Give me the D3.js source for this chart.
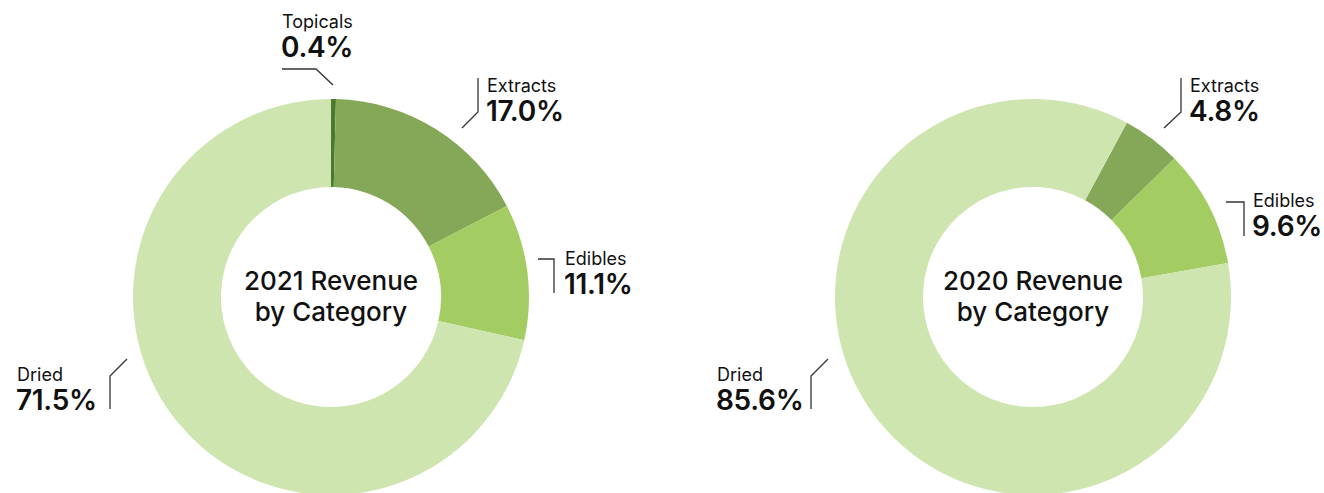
<!DOCTYPE html>
<html>
<head>
<meta charset="utf-8">
<script src="https://cdn.jsdelivr.net/npm/d3@7"></script>
<style>
  body { margin: 0; background: #fff; }
  svg text { font-family: Inter, "Noto Sans", sans-serif; fill: #111; }
</style>
</head>
<body>
<svg id="chart" width="1324" height="493"></svg>
<script>
// data
var categories = ["Topicals", "Extracts", "Edibles", "Dried"];
var values2021 = [0.4, 17.0, 11.1, 71.5];
var values2020 = [0.0, 4.8, 9.6, 85.6];
var titles = [["2021 Revenue", "by Category"], ["2020 Revenue", "by Category"]];

var colors = {Topicals: "#4b7a2f", Extracts: "#84a857", Edibles: "#a3cc63", Dried: "#cfe5b0"};

var svg = d3.select("#chart");
var outerR = 198, innerR = 110;

// label layout per chart, offsets from the donut centre
// text: [x, y of first baseline]; line: leader polyline points
var layouts = [
  {cx: 331, cy: 297, start: 0, labels: {
    Topicals: {text: [-49, -269], line: [[-49, -228], [-15, -228], [2, -212]]},
    Extracts: {text: [156, -205], line: [[147, -219], [147, -185], [131, -169]]},
    Edibles:  {text: [234, -32], line: [[207, -38], [223, -38], [223, -4]]},
    Dried:    {text: [-314, 84], line: [[-221, 112], [-221, 79], [-204, 62]]}
  }},
  {cx: 1033, cy: 297, start: 28.3, labels: {
    Extracts: {text: [157, -205], line: [[148, -219], [148, -185], [131, -169]]},
    Edibles:  {text: [220, -90], line: [[193, -95], [211, -95], [211, -61]]},
    Dried:    {text: [-316, 84], line: [[-222, 112], [-222, 79], [-205, 62]]}
  }}
];

var arc = d3.arc().innerRadius(innerR).outerRadius(outerR);

[values2021, values2020].forEach(function (vals, k) {
  var lay = layouts[k];
  var data = categories.map(function (c, i) { return {cat: c, value: vals[i]}; })
                       .filter(function (d) { return d.value > 0; });
  var pie = d3.pie().sort(null).value(function (d) { return d.value; })
              .startAngle(lay.start * Math.PI / 180)
              .endAngle(lay.start * Math.PI / 180 + 2 * Math.PI);
  var g = svg.append("g").attr("transform", "translate(" + lay.cx + "," + lay.cy + ")");

  g.selectAll("path.slice").data(pie(data)).enter().append("path")
    .attr("class", "slice")
    .attr("d", arc)
    .attr("fill", function (d) { return colors[d.data.cat]; });

  // centre title
  g.append("text").attr("text-anchor", "middle").attr("y", -7)
    .style("font-size", "26px").style("font-weight", 500)
    .text(titles[k][0]);
  g.append("text").attr("text-anchor", "middle").attr("y", 24)
    .style("font-size", "26px").style("font-weight", 500)
    .text(titles[k][1]);

  // labels
  data.forEach(function (d) {
    var l = lay.labels[d.cat];
    if (!l) return;
    g.append("polyline")
      .attr("points", l.line.map(function (p) { return p.join(","); }).join(" "))
      .attr("fill", "none").attr("stroke", "#333").attr("stroke-width", 1.3);
    g.append("text").attr("x", l.text[0]).attr("y", l.text[1])
      .style("font-size", "18px").style("font-weight", 400)
      .text(d.cat);
    g.append("text").attr("x", l.text[0] - 1).attr("y", l.text[1] + 29)
      .style("font-size", "28px").style("font-weight", 600).style("letter-spacing", "-0.3px")
      .text(d.value.toFixed(1) + "%");
  });
});
</script>
</body>
</html>
